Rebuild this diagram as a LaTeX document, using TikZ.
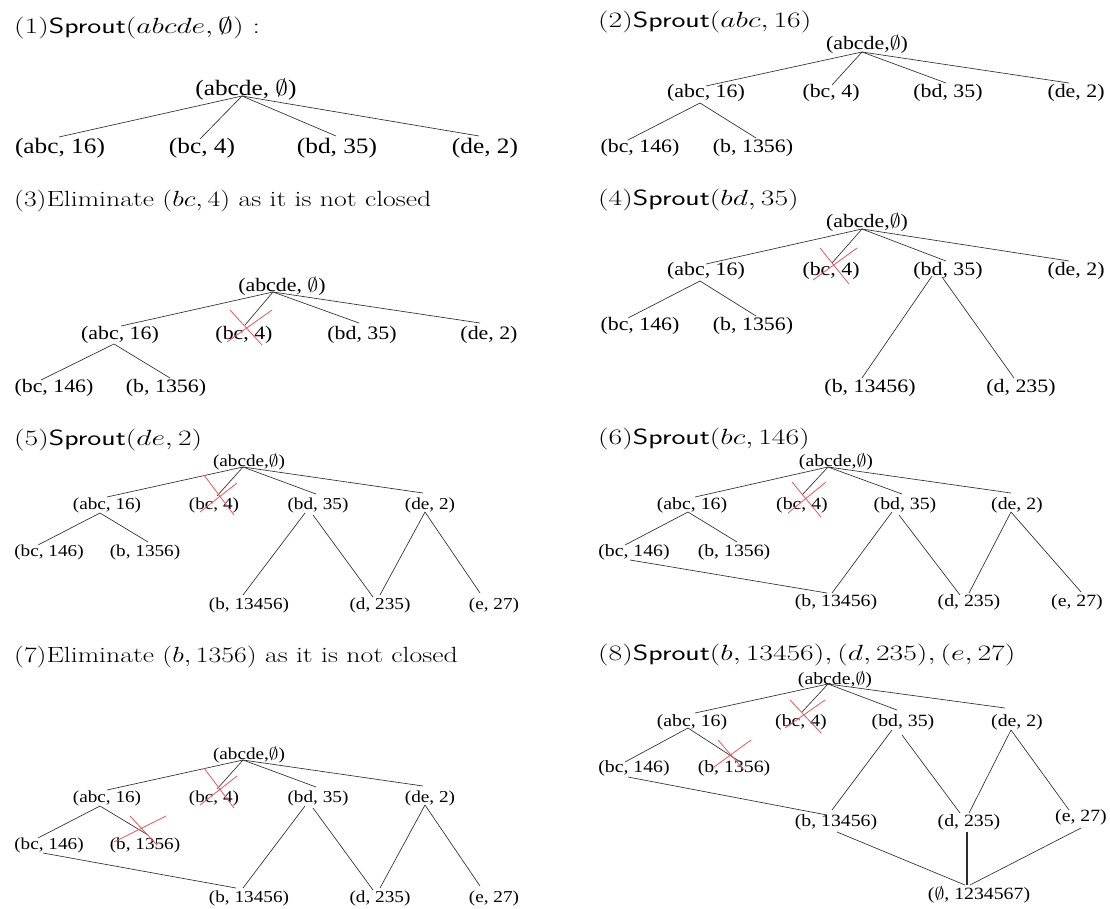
\documentclass[tikz,border=0pt]{standalone}
\usepackage{fix-cm}
\usepackage{fontspec}
\usepackage{graphicx}
\newfontfamily\labelfont{Liberation Serif}
\definecolor{linkgray}{RGB}{45,45,45}
\definecolor{crossred}{RGB}{236,86,86}
\newcommand{\wide}[1]{\scalebox{1.15}[1]{#1}}
\newcommand{\widetitle}[1]{\scalebox{1.26}[1]{#1}}
\newcommand{\sprouttitle}[1]{\scalebox{1.35}[1]{#1}}
\newcommand{\lnk}[4]{\draw[link] ([shift={#2}]#1.center) -- ([shift={#4}]#3.center);}
\newcommand{\thicklnk}[4]{\draw[link, line width=1.6pt] ([shift={#2}]#1.center) -- ([shift={#4}]#3.center);}
\newcommand{\rx}[5]{\draw[redx] ([shift={#2}]#1.center) -- ([shift={#3}]#1.center)
  ([shift={#4}]#1.center) -- ([shift={#5}]#1.center);}
\tikzset{
  ttl/.style={anchor=west, inner sep=0pt, font=\fontsize{22}{26}\selectfont},
  lbl/.style={inner sep=0pt},
  fa/.style={font=\labelfont\fontsize{22}{24}\selectfont},
  fb/.style={font=\labelfont\fontsize{19}{22}\selectfont},
  fc/.style={font=\labelfont\fontsize{17.2}{20}\selectfont},
  fd/.style={font=\labelfont\fontsize{16.7}{20}\selectfont},
  link/.style={draw=linkgray, line width=0.65pt},
  redx/.style={draw=crossred, line width=0.8pt},
}
\begin{document}
\begin{tikzpicture}[x=1pt, y=-1pt]
\useasboundingbox (0,0) rectangle (1110,908);
\fill[white] (0,0) rectangle (1110,908);

% ---------- titles ----------
\node[ttl] (t1) at (14,28)  {\sprouttitle{(1)\textsf{Sprout}$(abcde,\emptyset)$ :}};
\node[ttl] (t2) at (598,22) {\sprouttitle{(2)\textsf{Sprout}$(abc,16)$}};
\node[ttl] (t3) at (14,201) {\widetitle{(3)Eliminate $(bc,4)$ as it is not closed}};
\node[ttl] (t4) at (598,200) {\sprouttitle{(4)\textsf{Sprout}$(bd,35)$}};
\node[ttl] (t5) at (14,440) {\sprouttitle{(5)\textsf{Sprout}$(de,2)$}};
\node[ttl] (t6) at (598,439) {\sprouttitle{(6)\textsf{Sprout}$(bc,146)$}};
\node[ttl] (t7) at (14,657) {\widetitle{(7)Eliminate $(b,1356)$ as it is not closed}};
\node[ttl] (t8) at (598,655) {\sprouttitle{(8)\textsf{Sprout}$(b,13456),(d,235),(e,27)$}};

% ---------- (1) ----------
\begin{scope}[every node/.style={lbl,fa}]
\node (p1r) at (246,90)  {\wide{(abcde, $\emptyset$)}};
\node (p1a) at (60,148)  {\wide{(abc, 16)}};
\node (p1b) at (202,148) {\wide{(bc, 4)}};
\node (p1c) at (337,148) {\wide{(bd, 35)}};
\node (p1d) at (485,148) {\wide{(de, 2)}};
\end{scope}
\lnk{p1r}{(-4,6)}{p1a}{(-1,-11)}
\lnk{p1r}{(-4,6)}{p1b}{(-2,-9)}
\lnk{p1r}{(-4,6)}{p1c}{(-1,-12)}
\lnk{p1r}{(-4,6)}{p1d}{(-6,-12)}

% ---------- (2) ----------
\begin{scope}[every node/.style={lbl,fb}]
\node (p2r) at (867,44)  {\wide{(abcde,$\emptyset$)}};
\node (p2a) at (706,93)  {\wide{(abc, 16)}};
\node (p2b) at (831,93)  {\wide{(bc, 4)}};
\node (p2c) at (948,93)  {\wide{(bd, 35)}};
\node (p2d) at (1076,93) {\wide{(de, 2)}};
\node (p2e) at (640,148) {\wide{(bc, 146)}};
\node (p2f) at (753,148) {\wide{(b, 1356)}};
\end{scope}
\lnk{p2r}{(-5,8)}{p2a}{(0,-7)}
\lnk{p2r}{(-5,8)}{p2b}{(1,-8)}
\lnk{p2r}{(-5,8)}{p2c}{(-2,-10)}
\lnk{p2r}{(-5,8)}{p2d}{(-7,-10)}
\lnk{p2a}{(-6,10)}{p2e}{(-12,-8)}
\lnk{p2a}{(-6,10)}{p2f}{(3,-10)}

% ---------- (3) ----------
\begin{scope}[every node/.style={lbl,fb}]
\node (p3r) at (282,286) {\wide{(abcde, $\emptyset$)}};
\node (p3a) at (120,335) {\wide{(abc, 16)}};
\node (p3b) at (244,335) {\wide{(bc, 4)}};
\node (p3c) at (362,335) {\wide{(bd, 35)}};
\node (p3d) at (489,335) {\wide{(de, 2)}};
\node (p3e) at (54,388)  {\wide{(bc, 146)}};
\node (p3f) at (166,388) {\wide{(b, 1356)}};
\end{scope}
\lnk{p3r}{(-9,6)}{p3a}{(1,-9)}
\lnk{p3r}{(-9,6)}{p3b}{(1,-10)}
\lnk{p3r}{(-9,6)}{p3c}{(-3,-12)}
\lnk{p3r}{(-9,6)}{p3d}{(-9,-12)}
\lnk{p3a}{(-6,9)}{p3e}{(-13,-8)}
\lnk{p3a}{(-6,9)}{p3f}{(4,-10)}
\rx{p3b}{(-14,-25)}{(18,10)}{(-17,7)}{(28,-25)}

% ---------- (4) ----------
\begin{scope}[every node/.style={lbl,fb}]
\node (p4r) at (867,222)  {\wide{(abcde,$\emptyset$)}};
\node (p4a) at (706,271)  {\wide{(abc, 16)}};
\node (p4b) at (831,271)  {\wide{(bc, 4)}};
\node (p4c) at (948,271)  {\wide{(bd, 35)}};
\node (p4d) at (1076,271) {\wide{(de, 2)}};
\node (p4e) at (640,326)  {\wide{(bc, 146)}};
\node (p4f) at (753,326)  {\wide{(b, 1356)}};
\node (p4g) at (870,388)  {\wide{(b, 13456)}};
\node (p4h) at (1021,388) {\wide{(d, 235)}};
\end{scope}
\lnk{p4r}{(-5,7)}{p4a}{(0,-7)}
\lnk{p4r}{(-5,7)}{p4b}{(1,-8)}
\lnk{p4r}{(-5,7)}{p4c}{(-2,-10)}
\lnk{p4r}{(-5,7)}{p4d}{(-7,-10)}
\lnk{p4a}{(-6,10)}{p4e}{(-12,-8)}
\lnk{p4a}{(-6,10)}{p4f}{(3,-10)}
\lnk{p4c}{(-16,5)}{p4g}{(-8,-10)}
\lnk{p4c}{(-6,6)}{p4h}{(-7,-10)}
\rx{p4b}{(-11,-23)}{(18,13)}{(-18,9)}{(26,-23)}

% ---------- (5) ----------
\begin{scope}[every node/.style={lbl,fd}]
\node (p5r) at (249,462) {\wide{(abcde,$\emptyset$)}};
\node (p5a) at (107,505) {\wide{(abc, 16)}};
\node (p5b) at (214,505) {\wide{(bc, 4)}};
\node (p5c) at (318,505) {\wide{(bd, 35)}};
\node (p5d) at (430,505) {\wide{(de, 2)}};
\node (p5e) at (49,552)  {\wide{(bc, 146)}};
\node (p5f) at (145,552) {\wide{(b, 1356)}};
\node (p5g) at (249,605) {\wide{(b, 13456)}};
\node (p5h) at (380,605) {\wide{(d, 235)}};
\node (p5i) at (494,605) {\wide{(e, 27)}};
\end{scope}
\lnk{p5r}{(-6,5)}{p5a}{(0,-8)}
\lnk{p5r}{(-6,5)}{p5b}{(3,-9)}
\lnk{p5r}{(-6,5)}{p5c}{(-2,-11)}
\lnk{p5r}{(-6,5)}{p5d}{(-7,-12)}
\lnk{p5a}{(-7,8)}{p5e}{(-11,-7)}
\lnk{p5a}{(-7,8)}{p5f}{(3,-10)}
\lnk{p5c}{(-13,8)}{p5g}{(-6,-10)}
\lnk{p5c}{(-5,10)}{p5h}{(-7,-8)}
\lnk{p5d}{(-5,7)}{p5h}{(0,-10)}
\lnk{p5d}{(-5,7)}{p5i}{(-14,-12)}
\rx{p5b}{(-10,-30)}{(20,10)}{(-14,7)}{(23,-22)}

% ---------- (6) ----------
\begin{scope}[every node/.style={lbl,fc}]
\node (p6r) at (836,462)  {\wide{(abcde,$\emptyset$)}};
\node (p6a) at (692,505)  {\wide{(abc, 16)}};
\node (p6b) at (802,505)  {\wide{(bc, 4)}};
\node (p6c) at (905,505)  {\wide{(bd, 35)}};
\node (p6d) at (1017,505) {\wide{(de, 2)}};
\node (p6e) at (634,552)  {\wide{(bc, 146)}};
\node (p6f) at (734,552)  {\wide{(b, 1356)}};
\node (p6g) at (836,602)  {\wide{(b, 13456)}};
\node (p6h) at (969,602)  {\wide{(d, 235)}};
\node (p6i) at (1077,602) {\wide{(e, 27)}};
\end{scope}
\lnk{p6r}{(-8,5)}{p6a}{(3,-8)}
\lnk{p6r}{(-8,5)}{p6b}{(0,-10)}
\lnk{p6r}{(-8,5)}{p6c}{(-3,-11)}
\lnk{p6r}{(-8,5)}{p6d}{(-6,-12)}
\lnk{p6a}{(-4,7)}{p6e}{(-9,-7)}
\lnk{p6a}{(-4,7)}{p6f}{(3,-10)}
\lnk{p6e}{(-4,8)}{p6g}{(-9,-9)}
\lnk{p6c}{(-13,7)}{p6g}{(-4,-9)}
\lnk{p6c}{(-6,10)}{p6h}{(-9,-7)}
\lnk{p6d}{(-6,7)}{p6h}{(0,-9)}
\lnk{p6d}{(-6,7)}{p6i}{(4,-10)}
\rx{p6b}{(-10,-23)}{(19,12)}{(-14,8)}{(24,-23)}

% ---------- (7) ----------
\begin{scope}[every node/.style={lbl,fd}]
\node (p7r) at (249,755) {\wide{(abcde,$\emptyset$)}};
\node (p7a) at (107,798) {\wide{(abc, 16)}};
\node (p7b) at (214,798) {\wide{(bc, 4)}};
\node (p7c) at (318,798) {\wide{(bd, 35)}};
\node (p7d) at (430,798) {\wide{(de, 2)}};
\node (p7e) at (49,845)  {\wide{(bc, 146)}};
\node (p7f) at (145,845) {\wide{(b, 1356)}};
\node (p7g) at (249,898) {\wide{(b, 13456)}};
\node (p7h) at (380,898) {\wide{(d, 235)}};
\node (p7i) at (494,898) {\wide{(e, 27)}};
\end{scope}
\lnk{p7r}{(-6,5)}{p7a}{(0,-8)}
\lnk{p7r}{(-6,5)}{p7b}{(3,-9)}
\lnk{p7r}{(-6,5)}{p7c}{(-2,-11)}
\lnk{p7r}{(-6,5)}{p7d}{(-7,-12)}
\lnk{p7a}{(-7,8)}{p7e}{(-11,-7)}
\lnk{p7a}{(-7,8)}{p7f}{(3,-10)}
\lnk{p7e}{(-6,8)}{p7g}{(-13,-10)}
\lnk{p7c}{(-13,8)}{p7g}{(-6,-10)}
\lnk{p7c}{(-5,10)}{p7h}{(-7,-8)}
\lnk{p7d}{(-5,7)}{p7h}{(0,-10)}
\lnk{p7d}{(-5,7)}{p7i}{(-14,-12)}
\rx{p7b}{(-10,-30)}{(20,10)}{(-14,7)}{(23,-22)}
\rx{p7f}{(-15,-29)}{(12,0)}{(-31,-3)}{(21,-29)}

% ---------- (8) ----------
\begin{scope}[every node/.style={lbl,fc}]
\node (p8r) at (835,680)  {\wide{(abcde,$\emptyset$)}};
\node (p8a) at (692,722)  {\wide{(abc, 16)}};
\node (p8b) at (801,722)  {\wide{(bc, 4)}};
\node (p8c) at (903,722)  {\wide{(bd, 35)}};
\node (p8d) at (1017,722) {\wide{(de, 2)}};
\node (p8e) at (634,768)  {\wide{(bc, 146)}};
\node (p8f) at (734,768)  {\wide{(b, 1356)}};
\node (p8g) at (836,822)  {\wide{(b, 13456)}};
\node (p8h) at (969,822)  {\wide{(d, 235)}};
\node (p8i) at (1081,817) {\wide{(e, 27)}};
\node (p8z) at (979,895)  {\wide{($\emptyset$, 1234567)}};
\end{scope}
\lnk{p8r}{(-7,4)}{p8a}{(3,-9)}
\lnk{p8r}{(-7,4)}{p8b}{(1,-10)}
\lnk{p8r}{(-7,4)}{p8c}{(-6,-12)}
\lnk{p8r}{(-7,4)}{p8d}{(-12,-14)}
\lnk{p8a}{(-4,6)}{p8e}{(-9,-6)}
\lnk{p8a}{(-4,6)}{p8f}{(8,-5)}
\lnk{p8e}{(-6,9)}{p8g}{(-9,-7)}
\lnk{p8c}{(-11,8)}{p8g}{(-4,-12)}
\lnk{p8c}{(-1,13)}{p8h}{(-9,-9)}
\lnk{p8d}{(-6,8)}{p8h}{(0,-9)}
\lnk{p8d}{(-6,8)}{p8i}{(-12,-7)}
\lnk{p8g}{(1,10)}{p8z}{(-14,-10)}
\thicklnk{p8h}{(-2,10)}{p8z}{(-12,-10)}
\lnk{p8i}{(0,11)}{p8z}{(-9,-10)}
\rx{p8b}{(-11,-22)}{(20,11)}{(-16,6)}{(24,-22)}
\rx{p8f}{(-16,-28)}{(10,2)}{(-20,-1)}{(17,-28)}
\end{tikzpicture}
\end{document}
